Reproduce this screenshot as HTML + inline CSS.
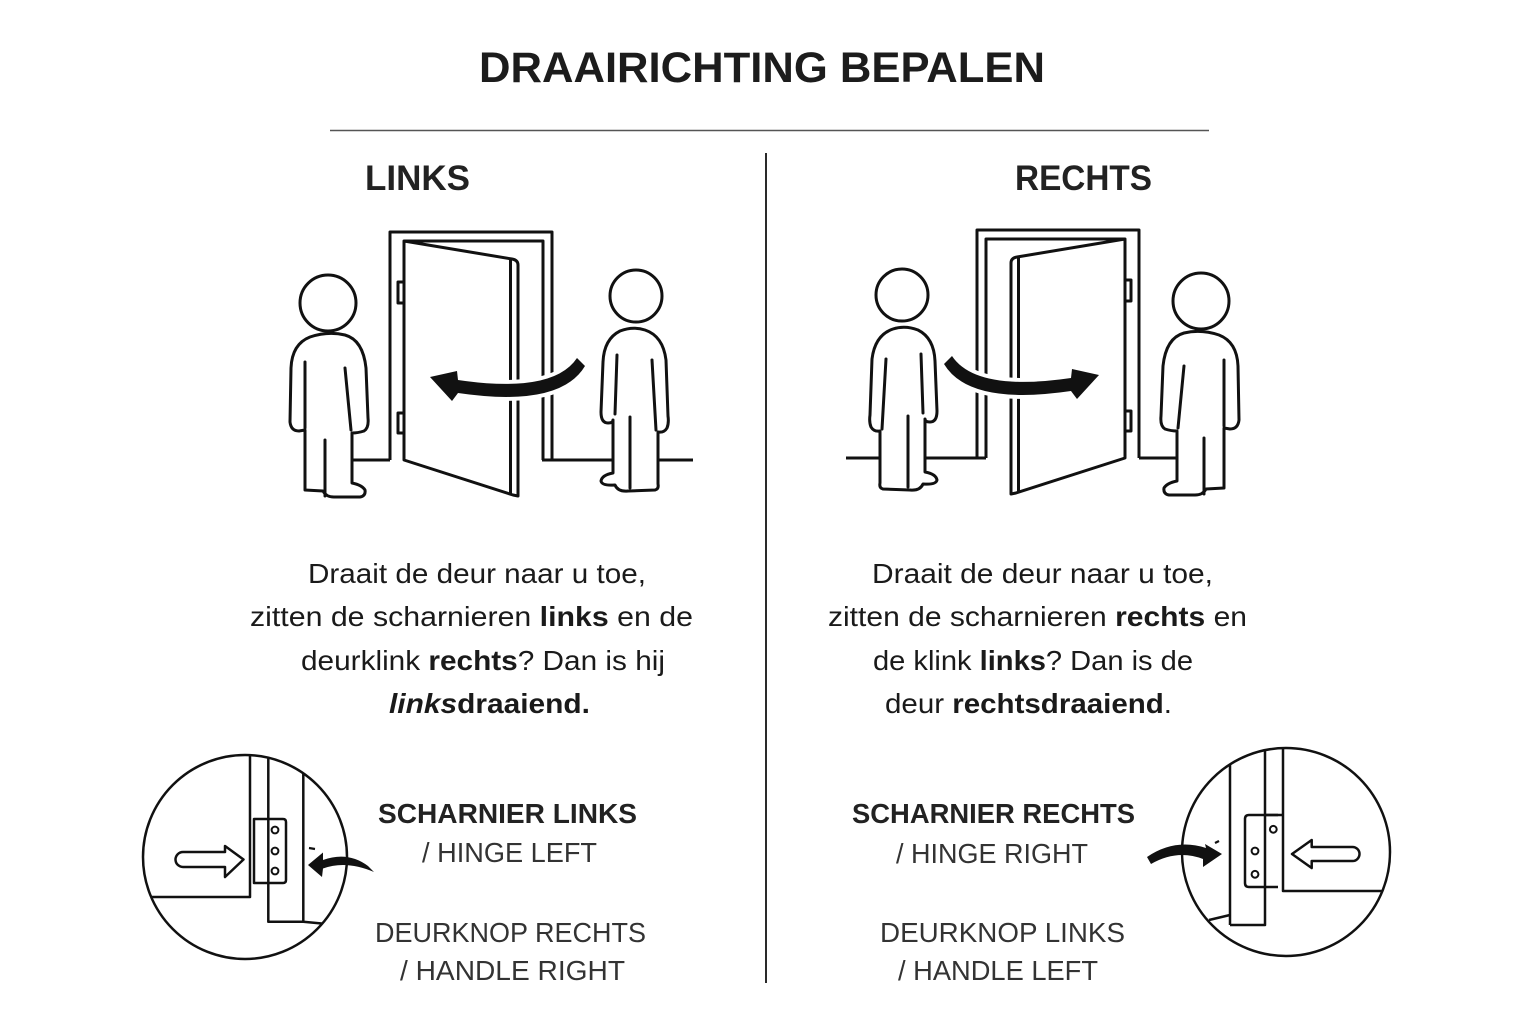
<!DOCTYPE html>
<html>
<head>
<meta charset="utf-8">
<style>
html,body{margin:0;padding:0;background:#fff;}
svg{display:block;}
text{font-family:"Liberation Sans",Arial,sans-serif;}
</style>
</head>
<body>
<svg width="1536" height="1024" viewBox="0 0 1536 1024" xmlns="http://www.w3.org/2000/svg">
<rect width="1536" height="1024" fill="#fff"/>

<!-- Title -->
<text x="479" y="82" font-size="43" font-weight="bold" fill="#1c1c1c" textLength="566" lengthAdjust="spacingAndGlyphs">DRAAIRICHTING BEPALEN</text>
<line x1="330" y1="130.5" x2="1209" y2="130.5" stroke="#555" stroke-width="1.6"/>
<line x1="766" y1="153" x2="766" y2="983" stroke="#2a2a2a" stroke-width="2"/>

<text x="365" y="190" font-size="35" font-weight="bold" fill="#222" textLength="105" lengthAdjust="spacingAndGlyphs">LINKS</text>
<text x="1015" y="190" font-size="35" font-weight="bold" fill="#222" textLength="137" lengthAdjust="spacingAndGlyphs">RECHTS</text>

<!-- ===== LEFT ILLUSTRATION: door ===== -->
<g fill="none" stroke="#111" stroke-width="3" stroke-linejoin="round">
  <path d="M353,460 H390 M542,460 H693"/>
  <path d="M390,460 V232 H552 V460"/>
  <path d="M404,241 H543 V460"/>
  <rect x="398" y="282" width="6" height="21" fill="#fff"/>
  <rect x="398" y="413" width="6" height="20" fill="#fff"/>
  <path d="M404,241 L512,259 Q518,260 518,265 V496 L513,495 L404,460 Z" fill="#fff"/>
  <path d="M510.5,260 V494"/>
  <path d="M577,358 Q553,394 458,380 L457,371 L430,377 L452,401 L458,393 Q560,408 585,366 Z" fill="#111" stroke="#fff" stroke-width="8" paint-order="stroke"/>
</g>

<!-- Person A (left) -->
<g fill="#fff" stroke="#111" stroke-width="3" stroke-linejoin="round" stroke-linecap="round">
  <path d="M305,430 V490 L323,491 Q326,497 334,497 H360 Q366,496 365,490 Q362,485 352,483 V433 Q358,433 364,431 Q369,428 368,418 L366,368 Q363,340 345,335 Q328,331 310,337 Q292,344 291,368 L290,422 Q291,431 299,431 Z"/>
  <path d="M305,362 V428 M345,368 L351,430 M325,440 V496" fill="none"/>
  <circle cx="328" cy="303" r="28"/>
</g>

<!-- Person B (right) -->
<g fill="#fff" stroke="#111" stroke-width="3" stroke-linejoin="round" stroke-linecap="round">
  <path d="M613,420 V473 Q602,475 601,481 Q602,486 615,485 Q618,492 628,491 L655,490 Q659,489 658,484 V432 Q664,433 667,428 Q669,423 668,416 L666,360 Q663,336 645,330 Q633,326 620,331 Q604,339 603,362 L601,412 Q601,423 608,423 Q613,423 613,420 Z"/>
  <path d="M617,355 L615,414 M652,360 L656,430 M630,417 V488" fill="none"/>
  <circle cx="636" cy="296" r="26"/>
</g>

<!-- ===== RIGHT ILLUSTRATION (mirrored) ===== -->
<g transform="translate(1529,-2) scale(-1,1)" fill="none" stroke="#111" stroke-width="3" stroke-linejoin="round">
  <path d="M353,460 H390 M543,460 H683"/>
  <path d="M390,460 V232 H552 V460"/>
  <path d="M404,241 H543 V460"/>
  <rect x="398" y="282" width="6" height="21" fill="#fff"/>
  <rect x="398" y="413" width="6" height="20" fill="#fff"/>
  <path d="M404,241 L512,259 Q518,260 518,265 V496 L513,495 L404,460 Z" fill="#fff"/>
  <path d="M510.5,260 V494"/>
  <path d="M577,358 Q553,394 458,380 L457,371 L430,377 L452,401 L458,393 Q560,408 585,366 Z" fill="#111" stroke="#fff" stroke-width="8" paint-order="stroke"/>
</g>
<g transform="translate(1538,-1) scale(-1,1)" fill="#fff" stroke="#111" stroke-width="3" stroke-linejoin="round" stroke-linecap="round">
  <path d="M613,420 V473 Q602,475 601,481 Q602,486 615,485 Q618,492 628,491 L655,490 Q659,489 658,484 V432 Q664,433 667,428 Q669,423 668,416 L666,360 Q663,336 645,330 Q633,326 620,331 Q604,339 603,362 L601,412 Q601,423 608,423 Q613,423 613,420 Z"/>
  <path d="M617,355 L615,414 M652,360 L656,430 M630,417 V488" fill="none"/>
  <circle cx="636" cy="296" r="26"/>
</g>
<g transform="translate(1529,-2) scale(-1,1)" fill="#fff" stroke="#111" stroke-width="3" stroke-linejoin="round" stroke-linecap="round">
  <path d="M305,430 V490 L323,491 Q326,497 334,497 H360 Q366,496 365,490 Q362,485 352,483 V433 Q358,433 364,431 Q369,428 368,418 L366,368 Q363,340 345,335 Q328,331 310,337 Q292,344 291,368 L290,422 Q291,431 299,431 Z"/>
  <path d="M305,362 V428 M345,368 L351,430 M325,440 V496" fill="none"/>
  <circle cx="328" cy="303" r="28"/>
</g>

<!-- ===== Paragraphs ===== -->
<g font-size="28" fill="#1a1a1a">
  <text x="308" y="583" textLength="338" lengthAdjust="spacingAndGlyphs">Draait de deur naar u toe,</text>
  <text x="250" y="626" textLength="443" lengthAdjust="spacingAndGlyphs">zitten de scharnieren <tspan font-weight="bold">links</tspan> en de</text>
  <text x="301" y="670" textLength="364" lengthAdjust="spacingAndGlyphs">deurklink <tspan font-weight="bold">rechts</tspan>? Dan is hij</text>
  <text x="389" y="713" textLength="201" lengthAdjust="spacingAndGlyphs" font-weight="bold"><tspan font-style="italic">links</tspan>draaiend.</text>

  <text x="872" y="583" textLength="341" lengthAdjust="spacingAndGlyphs">Draait de deur naar u toe,</text>
  <text x="828" y="626" textLength="419" lengthAdjust="spacingAndGlyphs">zitten de scharnieren <tspan font-weight="bold">rechts</tspan> en</text>
  <text x="873" y="670" textLength="320" lengthAdjust="spacingAndGlyphs">de klink <tspan font-weight="bold">links</tspan>? Dan is de</text>
  <text x="885" y="713" textLength="287" lengthAdjust="spacingAndGlyphs">deur <tspan font-weight="bold">rechtsdraaiend</tspan>.</text>
</g>

<!-- ===== Labels ===== -->
<g font-size="28">
  <text x="378" y="823" font-weight="bold" fill="#222" textLength="259" lengthAdjust="spacingAndGlyphs">SCHARNIER LINKS</text>
  <text x="422" y="862" fill="#333" textLength="175" lengthAdjust="spacingAndGlyphs">/ HINGE LEFT</text>
  <text x="375" y="942" fill="#333" textLength="271" lengthAdjust="spacingAndGlyphs">DEURKNOP RECHTS</text>
  <text x="400" y="980" fill="#333" textLength="225" lengthAdjust="spacingAndGlyphs">/ HANDLE RIGHT</text>

  <text x="852" y="823" font-weight="bold" fill="#222" textLength="283" lengthAdjust="spacingAndGlyphs">SCHARNIER RECHTS</text>
  <text x="896" y="863" fill="#333" textLength="192" lengthAdjust="spacingAndGlyphs">/ HINGE RIGHT</text>
  <text x="880" y="942" fill="#333" textLength="245" lengthAdjust="spacingAndGlyphs">DEURKNOP LINKS</text>
  <text x="898" y="980" fill="#333" textLength="200" lengthAdjust="spacingAndGlyphs">/ HANDLE LEFT</text>
</g>

<!-- ===== Left detail circle ===== -->
<g fill="none" stroke="#111" stroke-width="2.5" stroke-linejoin="round">
  <circle cx="245" cy="857" r="102"/>
  <path d="M250,756 V897 H151"/>
  <path d="M268.3,758 V921.7 H303.3 L321.7,923.5"/>
  <path d="M303.3,773 V921.7"/>
  <path d="M254,819 H283 Q286,819 286,822 V880 Q286,883 283,883 H254 Z" fill="#fff"/>
  <path d="M268.3,819 V883"/>
  <circle cx="275" cy="830" r="3.4" stroke-width="2"/>
  <circle cx="275" cy="851" r="3.4" stroke-width="2"/>
  <circle cx="275" cy="871" r="3.4" stroke-width="2"/>
  <path d="M183,852 H225 V846 L243.5,859.5 L225,877 V867 H183 A7.5,7.5 0 0 1 183,852 Z" fill="#fff"/>
  <path d="M368,866 Q348,851 323,860 L323,852.5 L308,865 L322,877 L323,868.5 Q346,860 374,872 Z" fill="#111" stroke="none"/>
  <path d="M309,848 L315,849" stroke-width="2.2"/>
</g>

<!-- ===== Right detail circle ===== -->
<g fill="none" stroke="#111" stroke-width="2.5" stroke-linejoin="round">
  <circle cx="1286" cy="852" r="104"/>
  <path d="M1283,748 V891 H1383"/>
  <path d="M1265,750 V925 H1230"/>
  <path d="M1230,764 V925"/>
  <path d="M1230,915 L1209,920"/>
  <path d="M1278,815 H1249 Q1245,815 1245,819 V883 Q1245,887 1249,887 H1278" fill="#fff"/>
  <path d="M1265,815 V887"/>
  <path d="M1265,815 H1283"/>
  <circle cx="1273.3" cy="829.3" r="3.4" stroke-width="2"/>
  <circle cx="1255" cy="851" r="3.4" stroke-width="2"/>
  <circle cx="1255" cy="874.3" r="3.4" stroke-width="2"/>
  <path d="M1352.5,847 H1311.7 V840 L1292,854 L1311.7,868 V861 H1352.5 A7,7 0 0 0 1352.5,847 Z" fill="#fff"/>
  <path d="M1147,857 Q1175,838 1206,848 L1205,844 L1222,854 L1203,867 L1203,859 Q1177,849 1151,864 Z" fill="#111" stroke="none"/>
  <path d="M1215,843 L1219,841" stroke-width="2.2"/>
</g>
</svg>
</body>
</html>
